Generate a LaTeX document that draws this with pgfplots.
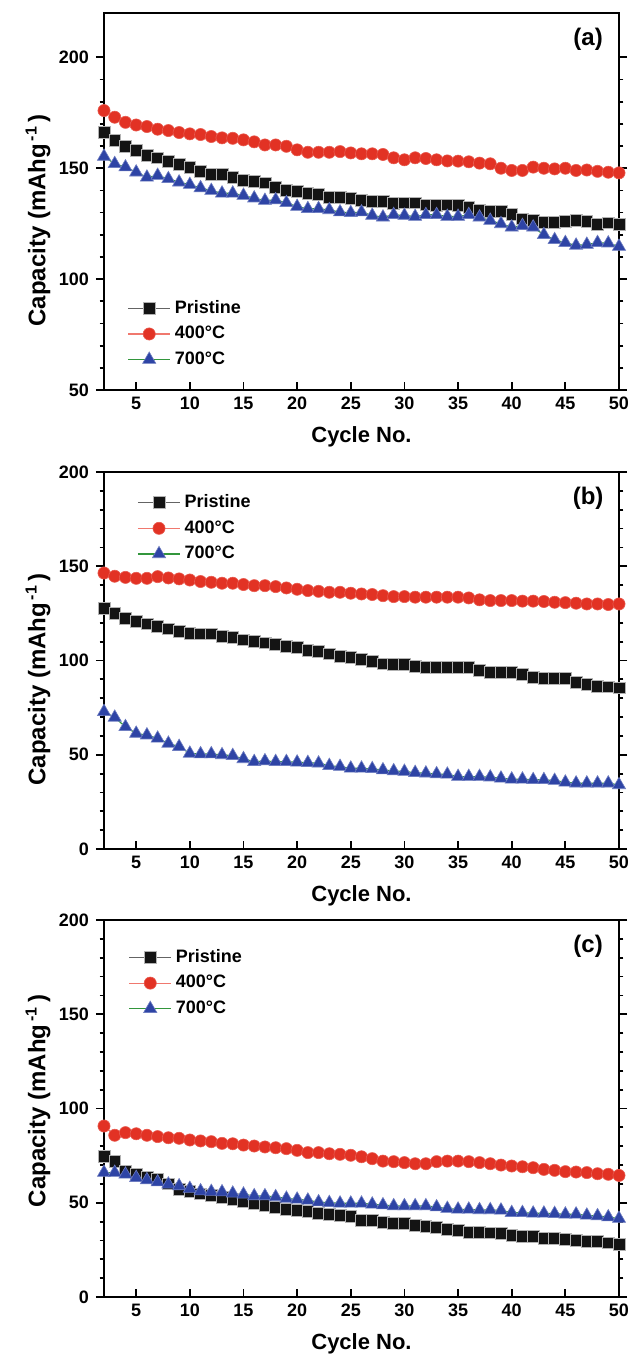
\documentclass[border=0pt]{standalone}
\usepackage{fontspec}
\setmainfont{Liberation Sans}
\usepackage{pgfplots}
\pgfplotsset{compat=1.18}
\definecolor{mred}{RGB}{226,50,36}
\definecolor{mblue}{RGB}{46,68,165}
\definecolor{mblack}{RGB}{20,20,20}
\definecolor{lred}{RGB}{240,120,110}
\definecolor{lgreen}{RGB}{50,150,60}
\definecolor{lgray}{RGB}{100,100,100}

\pgfplotsset{
  panel/.style={
    scale only axis, width=257.5pt, height=188.5pt,
    xmin=2, xmax=50, xtick={5,10,...,50},
    axis line style={line width=1.1pt},
    xtick align=inside, ytick align=outside, xtick pos=bottom, ytick pos=both,
    major tick length=4pt, minor tick length=2.2pt,
    every tick/.style={line width=0.9pt, black},
    minor y tick num=4,
    tick label style={font=\bfseries\fontsize{9}{11}\selectfont},
    /pgf/number format/assume math mode=true,
    xlabel={Cycle No.},
    ylabel={Capacity (mAhg\textsuperscript{\,-1}\,)},
    xlabel style={font=\bfseries\fontsize{11}{13}\selectfont, at={(rel axis cs:0.5,0)}, anchor=base, yshift=-26pt},
    ylabel style={font=\bfseries\fontsize{12}{14}\selectfont, anchor=center},
    legend style={draw=none, fill=none, font=\bfseries\fontsize{9}{10}\selectfont, anchor=north west, row sep=1pt, inner sep=0pt},
    legend cell align=left,
    legend image code/.code={\draw[mark repeat=2, mark phase=2] plot coordinates {(0cm,0cm)(0.37cm,0cm)(0.74cm,0cm)};},
  },
  pristine/.style={color=lgray, line width=0.6pt, mark=square*, mark size=2.95pt, mark options={fill=mblack, draw=gray!60, line width=0.3pt}},
  c400/.style={color=lred, line width=0.6pt, mark=*, mark size=3.05pt, mark options={fill=mred, draw=mred!80!white, line width=0.3pt}},
  c700/.style={color=lgreen, line width=0.6pt, mark=triangle*, mark size=3.8pt, mark options={fill=mblue, draw=mblue!70!white, line width=0.3pt}},
}

\begin{document}
\begin{tikzpicture}
\useasboundingbox (-52pt,6.5pt) rectangle (262.5pt,-671pt);
% ---------------- (a)
\begin{axis}[panel, at={(0pt,0pt)}, anchor=north west,
  ymin=50, ymax=220, ytick={50,100,150,200},
  ylabel style={at={([xshift=-33pt]rel axis cs:0,0.45)}},
  legend style={at={(rel axis cs:0.045,0.25)}}]
\addplot[pristine] coordinates {
(2,166.2)(3,162.5)(4,159.9)(5,158.0)(6,155.9)(7,154.7)(8,153.2)(9,151.7)(10,150.5)
(11,148.6)(12,147.4)(13,147.1)(14,145.9)(15,144.7)(16,144.0)(17,143.4)(18,141.4)(19,139.9)(20,139.6)
(21,138.7)(22,138.1)(23,136.9)(24,136.9)(25,136.5)(26,135.4)(27,135.0)(28,135.0)(29,134.2)(30,134.4)
(31,134.4)(32,133.5)(33,133.2)(34,133.5)(35,133.2)(36,132.4)(37,131.2)(38,130.6)(39,130.5)(40,129.4)
(41,127.2)(42,126.4)(43,125.7)(44,125.7)(45,126.1)(46,126.4)(47,126.0)(48,124.9)(49,125.4)(50,124.9)};
\addlegendentry{Pristine}
\addplot[c400] coordinates {
(2,176.0)(3,173.0)(4,170.7)(5,169.5)(6,168.8)(7,167.6)(8,167.0)(9,166.1)(10,165.5)
(11,165.2)(12,164.3)(13,163.7)(14,163.5)(15,162.8)(16,161.9)(17,160.5)(18,160.5)(19,159.9)(20,158.3)
(21,157.2)(22,157.2)(23,157.2)(24,157.5)(25,156.9)(26,156.5)(27,156.5)(28,156.2)(29,154.7)(30,153.8)
(31,154.7)(32,154.4)(33,153.8)(34,153.3)(35,153.2)(36,152.9)(37,152.3)(38,152.0)(39,150.0)(40,149.0)
(41,149.0)(42,150.5)(43,150.0)(44,149.7)(45,150.0)(46,149.0)(47,149.2)(48,148.6)(49,148.2)(50,147.9)};
\addlegendentry{400°C}
\addplot[c700] coordinates {
(2,155.3)(3,152.0)(4,150.5)(5,148.2)(6,145.9)(7,146.7)(8,145.2)(9,143.7)(10,142.6)
(11,141.1)(12,139.9)(13,138.7)(14,138.7)(15,137.7)(16,136.5)(17,135.4)(18,135.7)(19,134.4)(20,132.7)
(21,131.7)(22,131.7)(23,131.2)(24,130.2)(25,129.9)(26,130.2)(27,128.7)(28,127.9)(29,129.0)(30,128.7)
(31,128.2)(32,129.0)(33,129.0)(34,128.2)(35,128.2)(36,129.0)(37,127.9)(38,126.4)(39,124.9)(40,123.4)
(41,124.1)(42,123.4)(43,120.0)(44,117.7)(45,116.4)(46,115.2)(47,115.6)(48,116.4)(49,116.2)(50,114.7)};
\addlegendentry{700°C}
\node[font=\bfseries\fontsize{12}{14}\selectfont] at (rel axis cs:0.94,0.931) {(a)};
\end{axis}
% ---------------- (b)
\begin{axis}[panel, at={(0pt,-229.5pt)}, anchor=north west,
  ymin=0, ymax=200, ytick={0,50,100,150,200},
  ylabel style={at={([xshift=-33pt]rel axis cs:0,0.45)}},
  legend style={at={(rel axis cs:0.064,0.952)}}]
\addplot[pristine] coordinates {
(2,127.8)(3,125.1)(4,122.5)(5,120.9)(6,119.5)(7,118.2)(8,116.8)(9,115.6)(10,114.5)
(11,114.2)(12,114.2)(13,113.0)(14,112.1)(15,111.0)(16,110.3)(17,109.4)(18,108.4)(19,107.7)(20,106.8)
(21,105.4)(22,104.8)(23,103.6)(24,102.4)(25,101.5)(26,100.6)(27,99.6)(28,98.3)(29,98.0)(30,98.0)
(31,96.9)(32,96.6)(33,96.2)(34,96.2)(35,96.6)(36,96.2)(37,94.8)(38,93.9)(39,93.6)(40,93.6)
(41,92.5)(42,91.3)(43,90.4)(44,90.7)(45,90.4)(46,88.6)(47,87.4)(48,86.5)(49,86.0)(50,85.5)};
\addlegendentry{Pristine}
\addplot[c400] coordinates {
(2,146.4)(3,144.7)(4,144.1)(5,143.6)(6,143.6)(7,144.5)(8,143.8)(9,143.3)(10,142.7)
(11,141.9)(12,141.5)(13,141.0)(14,141.0)(15,140.3)(16,139.7)(17,139.7)(18,139.2)(19,138.5)(20,137.8)
(21,137.1)(22,136.7)(23,136.2)(24,136.2)(25,135.7)(26,135.3)(27,135.0)(28,134.4)(29,133.9)(30,133.9)
(31,133.6)(32,133.6)(33,133.6)(34,133.6)(35,133.6)(36,133.2)(37,132.2)(38,131.8)(39,131.8)(40,131.8)
(41,131.5)(42,131.5)(43,131.3)(44,130.9)(45,130.7)(46,130.4)(47,130.0)(48,130.0)(49,129.7)(50,130.0)};
\addlegendentry{400°C}
\addplot[c700] coordinates {
(2,72.8)(3,69.8)(4,64.8)(5,61.3)(6,60.4)(7,58.7)(8,56.0)(9,54.3)(10,50.7)
(11,50.4)(12,50.4)(13,49.9)(14,49.5)(15,47.8)(16,46.3)(17,46.7)(18,46.3)(19,46.3)(20,46.0)
(21,45.8)(22,45.5)(23,44.2)(24,43.7)(25,42.8)(26,42.8)(27,42.5)(28,41.9)(29,41.4)(30,41.1)
(31,40.5)(32,40.2)(33,39.8)(34,39.6)(35,38.4)(36,38.4)(37,38.4)(38,38.1)(39,37.5)(40,37.0)
(41,37.0)(42,36.7)(43,36.7)(44,36.3)(45,35.4)(46,34.9)(47,34.9)(48,34.9)(49,34.9)(50,34.0)};
\addlegendentry{700°C}
\node[font=\bfseries\fontsize{12}{14}\selectfont] at (rel axis cs:0.94,0.931) {(b)};
\end{axis}
% ---------------- (c)
\begin{axis}[panel, at={(0pt,-453.5pt)}, anchor=north west,
  ymin=0, ymax=200, ytick={0,50,100,150,200},
  ylabel style={at={([xshift=-33pt]rel axis cs:0,0.52)}},
  legend style={at={(rel axis cs:0.047,0.934)}}]
\addplot[pristine] coordinates {
(2,74.8)(3,71.8)(4,66.8)(5,65.4)(6,63.7)(7,62.4)(8,60.1)(9,57.1)(10,56.2)
(11,54.8)(12,54.1)(13,52.7)(14,51.8)(15,50.9)(16,49.5)(17,48.8)(18,47.4)(19,46.5)(20,46.0)
(21,45.6)(22,44.4)(23,43.9)(24,43.5)(25,43.0)(26,40.7)(27,40.7)(28,39.8)(29,39.1)(30,39.1)
(31,38.0)(32,37.7)(33,37.1)(34,35.9)(35,35.5)(36,34.5)(37,34.5)(38,34.1)(39,33.6)(40,32.9)
(41,32.4)(42,32.4)(43,31.1)(44,31.1)(45,30.6)(46,30.1)(47,29.7)(48,29.4)(49,28.8)(50,27.9)};
\addlegendentry{Pristine}
\addplot[c400] coordinates {
(2,90.7)(3,85.8)(4,87.2)(5,86.6)(6,85.8)(7,85.1)(8,84.5)(9,84.2)(10,83.3)
(11,82.8)(12,82.4)(13,81.5)(14,81.3)(15,80.6)(16,80.1)(17,79.6)(18,79.2)(19,78.7)(20,77.8)
(21,76.6)(22,76.6)(23,76.0)(24,75.7)(25,75.2)(26,74.4)(27,73.4)(28,72.1)(29,71.8)(30,71.3)
(31,70.7)(32,70.7)(33,71.8)(34,72.1)(35,72.1)(36,71.8)(37,71.3)(38,70.7)(39,70.0)(40,69.5)
(41,69.1)(42,68.6)(43,67.7)(44,67.2)(45,66.5)(46,66.3)(47,66.0)(48,65.4)(49,65.1)(50,64.5)};
\addlegendentry{400°C}
\addplot[c700] coordinates {
(2,66.0)(3,66.0)(4,65.1)(5,63.3)(6,62.1)(7,61.0)(8,59.8)(9,58.9)(10,57.5)
(11,56.2)(12,55.9)(13,55.7)(14,55.0)(15,54.5)(16,53.6)(17,53.6)(18,53.1)(19,52.3)(20,51.8)
(21,51.3)(22,50.4)(23,50.0)(24,49.7)(25,49.7)(26,49.7)(27,49.2)(28,48.8)(29,48.3)(30,48.3)
(31,48.3)(32,48.3)(33,47.7)(34,46.9)(35,46.5)(36,46.5)(37,46.2)(38,46.2)(39,46.0)(40,44.7)
(41,44.7)(42,44.4)(43,44.4)(44,44.2)(45,43.9)(46,43.9)(47,43.3)(48,43.0)(49,42.4)(50,41.6)};
\addlegendentry{700°C}
\node[font=\bfseries\fontsize{12}{14}\selectfont] at (rel axis cs:0.94,0.931) {(c)};
\end{axis}
\end{tikzpicture}
\end{document}
